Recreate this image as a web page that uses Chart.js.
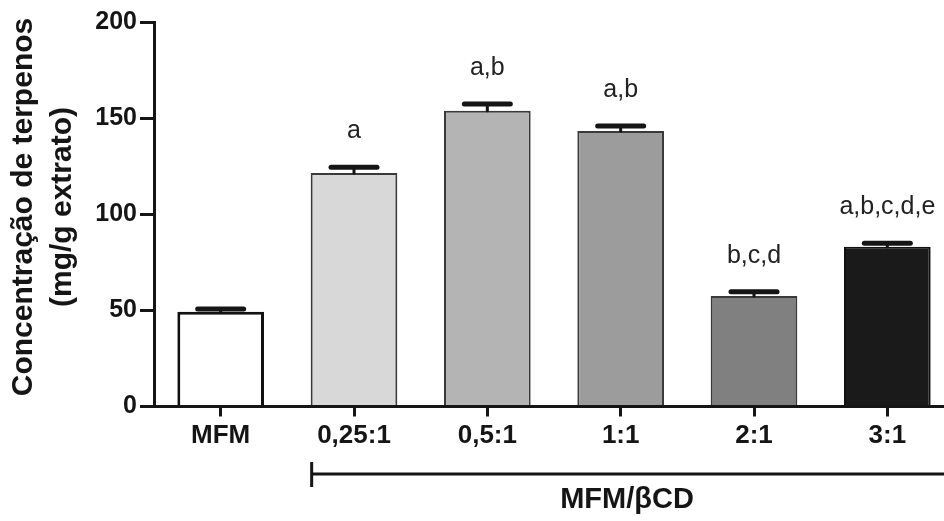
<!DOCTYPE html>
<html>
<head>
<meta charset="utf-8">
<script src="https://cdn.jsdelivr.net/npm/chart.js@4"></script>
<style>
  html, body { margin: 0; padding: 0; background: #fff; }
  #wrap { width: 944px; height: 521px; overflow: hidden; position: relative; }
  #grafica { position: absolute; left: 0; top: 0; }
</style>
</head>
<body>
<div id="wrap"><canvas id="grafica" width="960" height="521"></canvas></div>
<script>
// datos
const categorias = ['MFM', '0,25:1', '0,5:1', '1:1', '2:1', '3:1'];
const medias = [49.3, 121.5, 153.9, 143.3, 57.5, 83.1];
const errores = [1.4, 3.0, 3.5, 2.6, 2.2, 1.8];
const letras = ['', 'a', 'a,b', 'a,b', 'b,c,d', 'a,b,c,d,e'];
const ticksY = [0, 50, 100, 150, 200];
const tituloY = ['Concentração de terpenos', '(mg/g extrato)'];
const grupo = 'MFM/βCD';

const fuente = "'Liberation Sans', Arial, Helvetica, sans-serif";
const tinta = '#151515';

// barras de error, letras, corchete y titulo del eje
const extras = {
  id: 'extras',
  afterDatasetsDraw(chart) {
    const ctx = chart.ctx;
    const x = chart.scales.x;
    const y = chart.scales.y;
    const meta = chart.getDatasetMeta(0);
    ctx.save();
    medias.forEach((m, i) => {
      const cx = x.getPixelForValue(i);
      const top = y.getPixelForValue(m);
      const cap = y.getPixelForValue(m + errores[i]);
      ctx.strokeStyle = tinta;
      ctx.lineCap = 'round';
      ctx.lineWidth = 3;
      ctx.beginPath();
      ctx.moveTo(cx, top);
      ctx.lineTo(cx, cap);
      ctx.stroke();
      ctx.lineWidth = 5;
      ctx.beginPath();
      ctx.moveTo(cx - 23, cap);
      ctx.lineTo(cx + 23, cap);
      ctx.stroke();
      if (letras[i]) {
        ctx.fillStyle = '#222';
        ctx.font = '25px ' + fuente;
        ctx.textAlign = 'center';
        ctx.textBaseline = 'alphabetic';
        ctx.fillText(letras[i], cx, cap - 29);
      }
    });

    // corchete MFM/bCD
    const bar1 = meta.data[1];
    const x0 = bar1.x - bar1.width / 2 + 1;
    const yb = 474;
    ctx.strokeStyle = tinta;
    ctx.lineCap = 'butt';
    ctx.lineWidth = 3;
    ctx.beginPath();
    ctx.moveTo(x0, yb);
    ctx.lineTo(chart.width, yb);
    ctx.moveTo(x0, 462);
    ctx.lineTo(x0, 487);
    ctx.stroke();
    ctx.fillStyle = tinta;
    ctx.font = 'bold 29px ' + fuente;
    ctx.textAlign = 'center';
    ctx.textBaseline = 'middle';
    ctx.fillText(grupo, 627, 500);

    // titulo del eje y
    ctx.translate(43, 207);
    ctx.rotate(-Math.PI / 2);
    ctx.font = 'bold 30px ' + fuente;
    ctx.fillText(tituloY[0], 0, -19);
    ctx.fillText(tituloY[1], 0, 20);
    ctx.restore();
  }
};

const ctx = document.getElementById('grafica').getContext('2d');
new Chart(ctx, {
  type: 'bar',
  data: {
    labels: categorias,
    datasets: [{
      data: medias,
      backgroundColor: ['#ffffff', '#d8d8d8', '#b4b4b4', '#9c9c9c', '#808080', '#1a1a1a'],
      borderColor: ['#111111', '#3a3a3a', '#3a3a3a', '#3a3a3a', '#3a3a3a', '#111111'],
      borderWidth: [3, 2, 2, 2, 2, 2],
      barPercentage: 0.65,
      categoryPercentage: 1
    }]
  },
  options: {
    responsive: false,
    animation: false,
    layout: { padding: { top: 22, right: 6, bottom: 0, left: 0 } },
    plugins: { legend: { display: false }, tooltip: { enabled: false } },
    scales: {
      x: {
        afterFit(scale) { scale.height = 114.5; },
        grid: { display: true, drawOnChartArea: false, offset: false, tickLength: 10, color: tinta, lineWidth: 3 },
        border: { display: true, color: tinta, width: 3 },
        ticks: { color: tinta, padding: 4, font: { family: fuente, size: 26, weight: 'bold' } }
      },
      y: {
        min: 0,
        max: 200,
        afterFit(scale) { scale.width = 154; },
        afterBuildTicks(scale) { scale.ticks = ticksY.map(v => ({ value: v })); },
        grid: { display: true, drawOnChartArea: false, tickLength: 14, color: tinta, lineWidth: 3 },
        border: { display: true, color: tinta, width: 3 },
        ticks: { color: tinta, padding: 3, font: { family: fuente, size: 25, weight: 'bold' } }
      }
    }
  },
  plugins: [extras]
});
</script>
</body>
</html>
